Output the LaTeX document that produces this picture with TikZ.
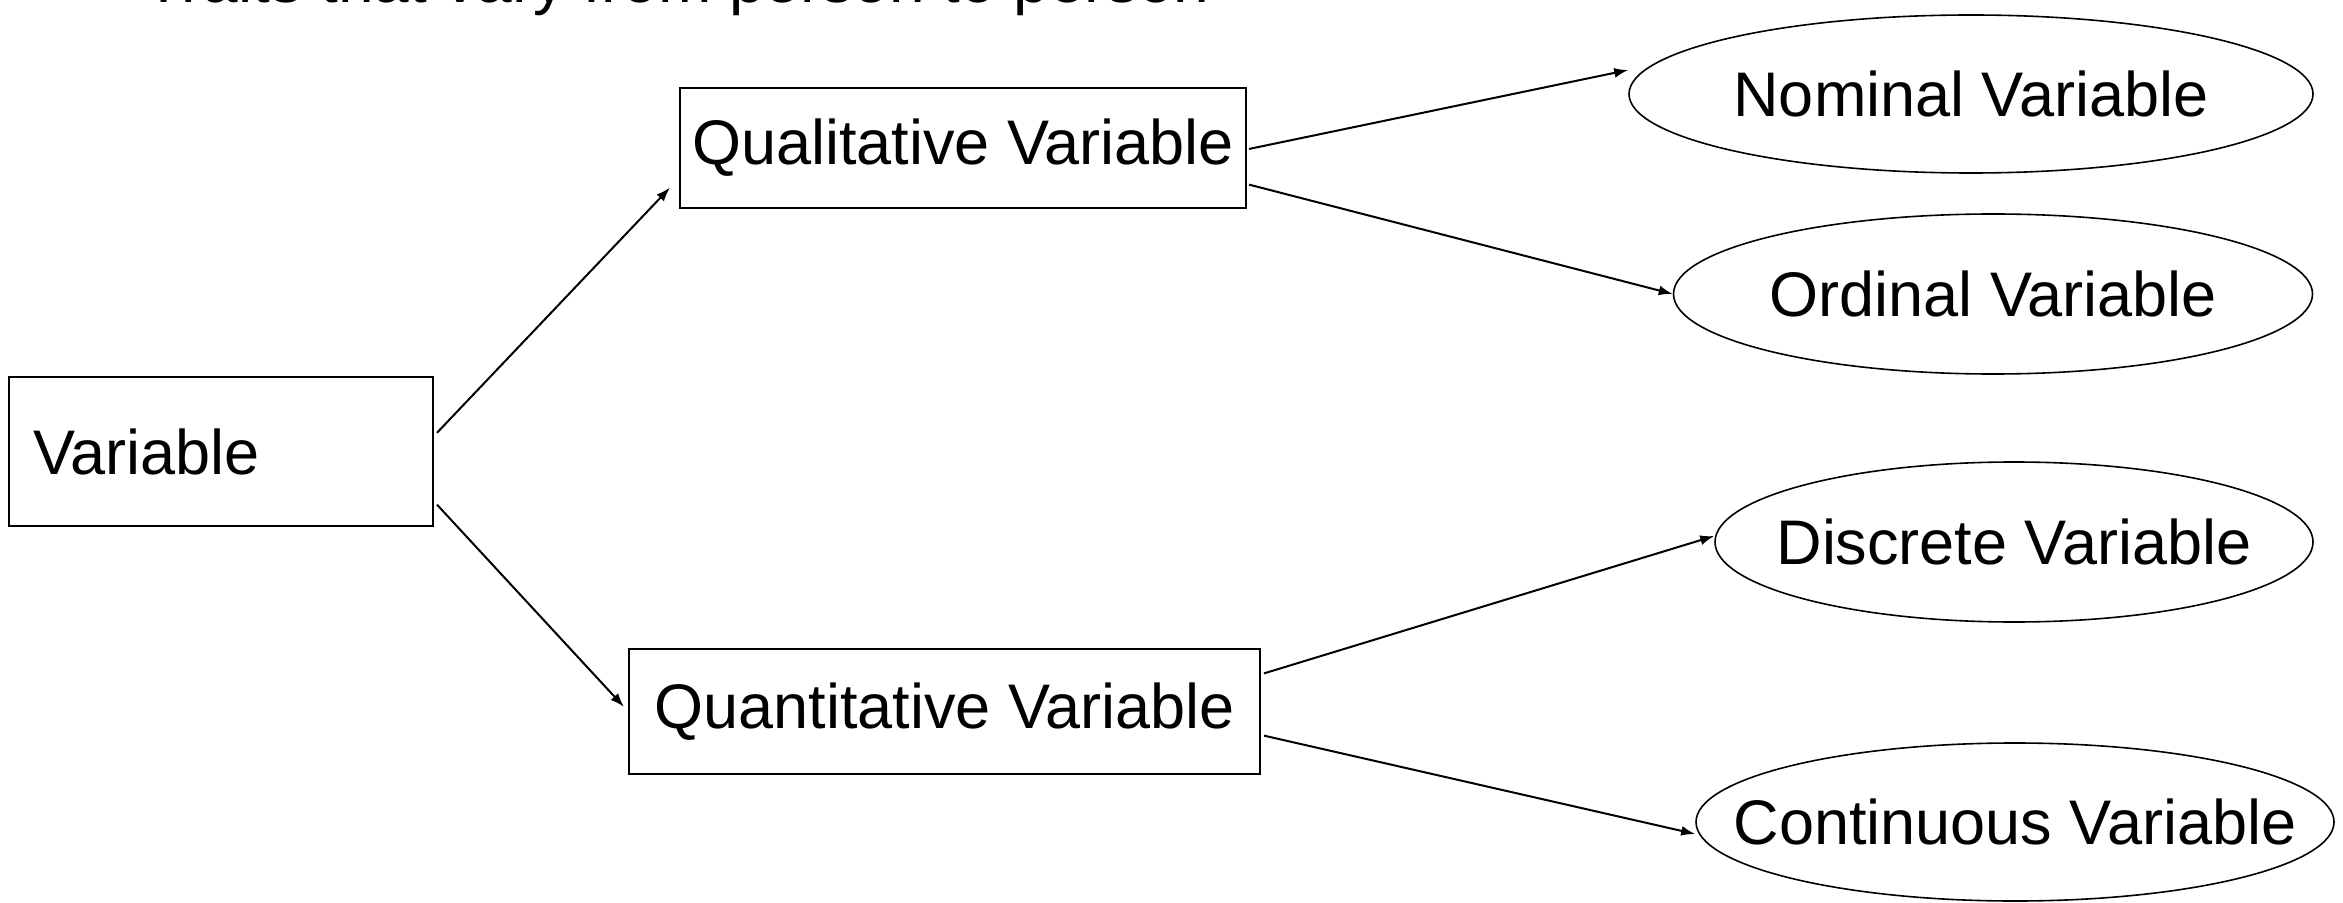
\documentclass[tikz,border=0pt]{standalone}
\usepackage{fontspec}
\setmainfont{Liberation Sans}
\usetikzlibrary{arrows.meta,calc,shapes.geometric}
\begin{document}
\begin{tikzpicture}[x=0.5pt,y=-0.5pt,
 box/.style={draw,line width=1pt,rectangle,inner sep=0pt,font=\fontsize{31.5}{38}\selectfont},
 oval/.style={draw,line width=0.8pt,ellipse,inner sep=0pt,font=\fontsize{31.5}{38}\selectfont},
 arr/.style={line width=1pt,-{Latex[length=7pt,width=5pt]}}]
\useasboundingbox (0,0) rectangle (2343,903);
\begin{scope}
\clip (0,0) rectangle (2343,903);
\node[anchor=base east,inner sep=0pt,font=\fontsize{32}{38}\selectfont] (hdr) at (1210,3) {Traits that vary from person to person};
\end{scope}
\node[box,minimum width=212pt,minimum height=74.5pt,text width=188pt,align=left,inner xsep=12pt] (var) at (221,451.5) {Variable};
\node[box,minimum width=283pt,minimum height=60pt] (qual) at (963,148) {Qualitative Variable};
\node[box,minimum width=315.5pt,minimum height=62.5pt] (quant) at (944.5,711.5) {Quantitative Variable};
\node[oval,minimum width=342pt,minimum height=79pt] (nom) at (1971,94) {\makebox[0pt][c]{Nominal Variable}};
\node[oval,minimum width=319.5pt,minimum height=80pt] (ord) at (1993,294) {\makebox[0pt][c]{Ordinal Variable}};
\node[oval,minimum width=299pt,minimum height=80pt] (disc) at (2014,542) {\makebox[0pt][c]{Discrete Variable}};
\node[oval,minimum width=319pt,minimum height=79pt] (cont) at (2015,822) {\makebox[0pt][c]{Continuous Variable}};
\draw[arr] ($(var.north east)!0.376!(var.south east)+(3,0)$) -- ($(qual.north west)!0.825!(qual.south west)+(-9,0)$);
\draw[arr] ($(var.north east)!0.852!(var.south east)+(3,0)$) -- ($(quant.north west)!0.464!(quant.south west)+(-4,0)$);
\draw[arr] ($(qual.north east)!0.508!(qual.south east)+(2,0)$) -- ($(nom.west)+(0,-24)$);
\draw[arr] ($(qual.north east)!0.8!(qual.south east)+(2,0)$) -- (ord.west);
\draw[arr] ($(quant.north east)!0.2!(quant.south east)+(3,0)$) -- ($(disc.west)+(0,-6)$);
\draw[arr] ($(quant.north east)!0.69!(quant.south east)+(3,0)$) -- ($(cont.west)+(0,12)$);
\end{tikzpicture}
\end{document}
